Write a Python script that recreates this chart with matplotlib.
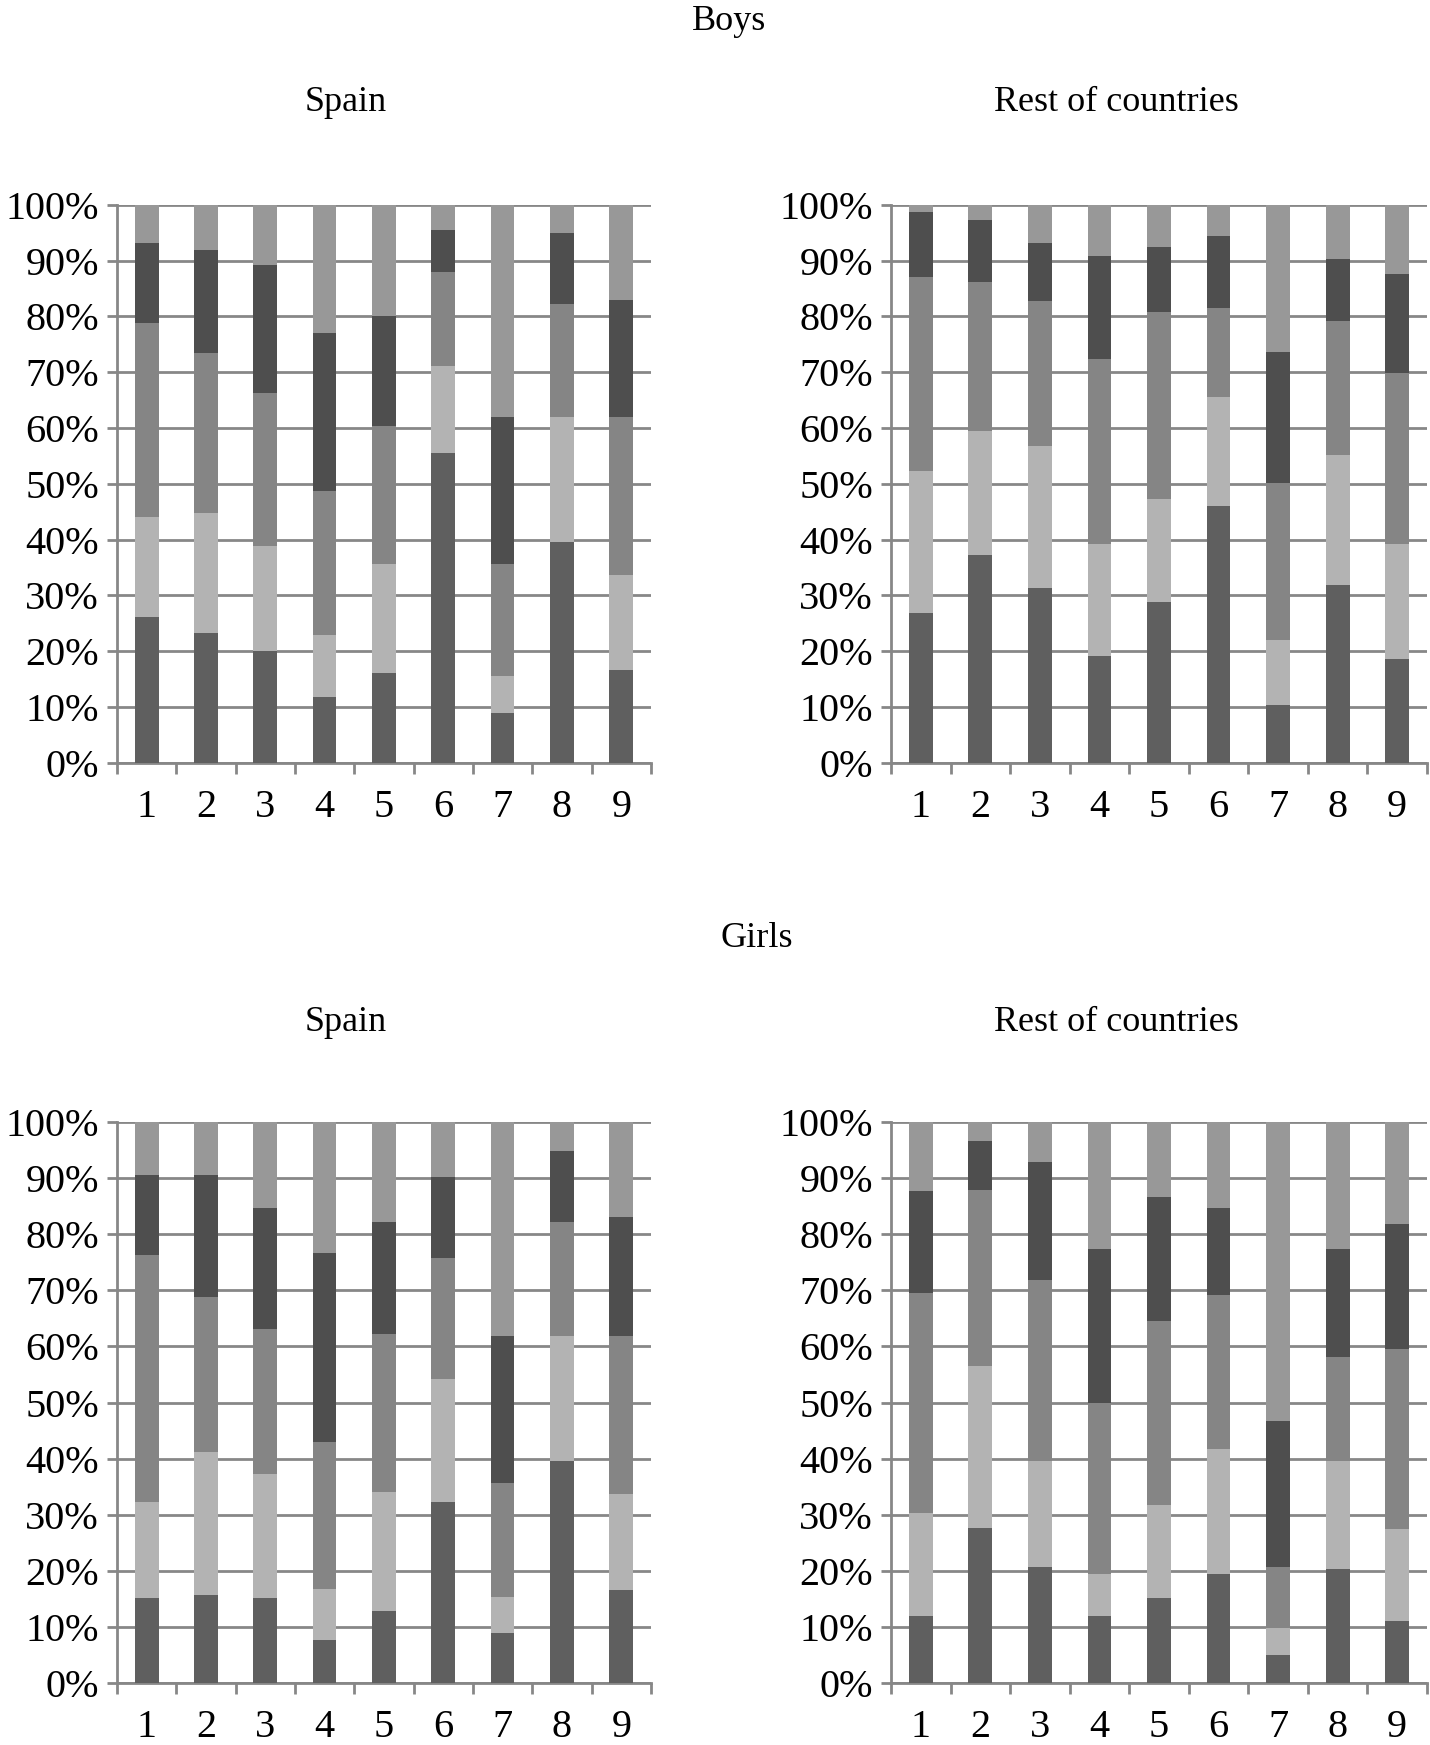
import numpy as np
import matplotlib
matplotlib.use("Agg")
import matplotlib.pyplot as plt
from matplotlib.ticker import FixedLocator, PercentFormatter

plt.rcParams['font.family'] = ['Liberation Serif', 'DejaVu Serif']

categories = ['1', '2', '3', '4', '5', '6', '7', '8', '9']
seg_colors = ['#5f5f5f', '#b3b3b3', '#858585', '#4e4e4e', '#989898']
grid_col = '#878787'

# segment shares (%), bottom -> top, per panel
boys_spain = [
    [26.2, 23.2, 20.0, 11.8, 16.1, 55.5, 9.0, 39.5, 16.7],
    [17.9, 21.6, 18.9, 11.2, 19.6, 15.6, 6.5, 22.5, 17.0],
    [34.8, 28.6, 27.3, 25.7, 24.7, 16.9, 20.2, 20.2, 28.3],
    [14.2, 18.5, 23.0, 28.3, 19.7, 7.5, 26.3, 12.7, 21.0],
    [6.9, 8.1, 10.8, 23.0, 19.9, 4.5, 38.0, 5.1, 17.0],
]
boys_rest = [
    [26.8, 37.2, 31.4, 19.1, 28.8, 46.0, 10.3, 31.8, 18.7],
    [25.5, 22.2, 25.4, 20.2, 18.5, 19.6, 11.7, 23.4, 20.6],
    [34.7, 26.7, 26.0, 33.0, 33.5, 15.9, 28.2, 24.0, 30.5],
    [11.8, 11.1, 10.3, 18.6, 11.7, 13.0, 23.5, 11.1, 17.8],
    [1.2, 2.8, 6.9, 9.1, 7.5, 5.5, 26.3, 9.7, 12.4],
]
girls_spain = [
    [15.1, 15.7, 15.1, 7.6, 12.8, 32.3, 8.9, 39.5, 16.6],
    [17.2, 25.4, 22.1, 9.2, 21.2, 21.9, 6.5, 22.4, 17.1],
    [44.0, 27.7, 25.9, 26.2, 28.3, 21.5, 20.2, 20.3, 28.2],
    [14.2, 21.7, 21.6, 33.6, 19.9, 14.5, 26.3, 12.6, 21.2],
    [9.5, 9.5, 15.3, 23.4, 17.8, 9.8, 38.1, 5.2, 16.9],
]
girls_rest = [
    [11.9, 27.6, 20.6, 11.9, 15.1, 19.4, 5.0, 20.3, 11.1],
    [18.5, 28.9, 19.0, 7.5, 16.7, 22.4, 4.8, 19.3, 16.3],
    [39.2, 31.3, 32.2, 30.6, 32.7, 27.3, 10.8, 18.6, 32.1],
    [18.1, 8.9, 21.1, 27.3, 22.1, 15.6, 26.1, 19.1, 22.3],
    [12.3, 3.3, 7.1, 22.7, 13.4, 15.3, 53.3, 22.7, 18.2],
]

FS = 26      # titles
TFS = 29     # tick labels


def stacked(ax, data):
    x = np.arange(1, len(categories) + 1)
    bottom = np.zeros(len(categories))
    for vals, col in zip(data, seg_colors):
        vals = np.array(vals)
        ax.bar(x, vals, 0.4, bottom=bottom, color=col, linewidth=0, zorder=3)
        bottom += vals
    ax.set_xlim(0.5, len(categories) + 0.5)
    ax.set_ylim(0, 100)
    ax.set_yticks(np.arange(0, 101, 10))
    ax.yaxis.set_major_formatter(PercentFormatter(decimals=0))
    ax.set_xticks(x)
    ax.set_xticklabels(categories)
    ax.xaxis.set_minor_locator(FixedLocator(np.arange(0.5, len(categories) + 1, 1)))
    ax.tick_params(axis='x', which='major', length=0, pad=19, labelsize=TFS)
    ax.tick_params(axis='x', which='minor', length=8, width=2, color=grid_col, direction='out')
    ax.tick_params(axis='y', length=7, width=2, color=grid_col, pad=6, labelsize=TFS)
    ax.yaxis.grid(True, color=grid_col, linewidth=2, zorder=0)
    ax.set_axisbelow(True)
    for s in ['top', 'right']:
        ax.spines[s].set_visible(False)
    for s in ['left', 'bottom']:
        ax.spines[s].set_color(grid_col)
        ax.spines[s].set_linewidth(2)


fig = plt.figure(figsize=(14.3, 17.45), dpi=100)

ax1 = fig.add_axes([0.0818, 0.5628, 0.3734, 0.3198])
ax2 = fig.add_axes([0.6231, 0.5628, 0.3748, 0.3198])
ax3 = fig.add_axes([0.0818, 0.0355, 0.3734, 0.3215])
ax4 = fig.add_axes([0.6231, 0.0355, 0.3748, 0.3215])

stacked(ax1, boys_spain)
stacked(ax2, boys_rest)
stacked(ax3, girls_spain)
stacked(ax4, girls_rest)

fig.text(0.51, 0.9875, 'Boys', ha='center', va='center', fontsize=FS)
fig.text(0.242, 0.941, 'Spain', ha='center', va='center', fontsize=FS)
fig.text(0.781, 0.941, 'Rest of countries', ha='center', va='center', fontsize=FS)
fig.text(0.529, 0.462, 'Girls', ha='center', va='center', fontsize=FS)
fig.text(0.242, 0.4143, 'Spain', ha='center', va='center', fontsize=FS)
fig.text(0.781, 0.4143, 'Rest of countries', ha='center', va='center', fontsize=FS)

fig.savefig('out.png', dpi=100, facecolor='white')
